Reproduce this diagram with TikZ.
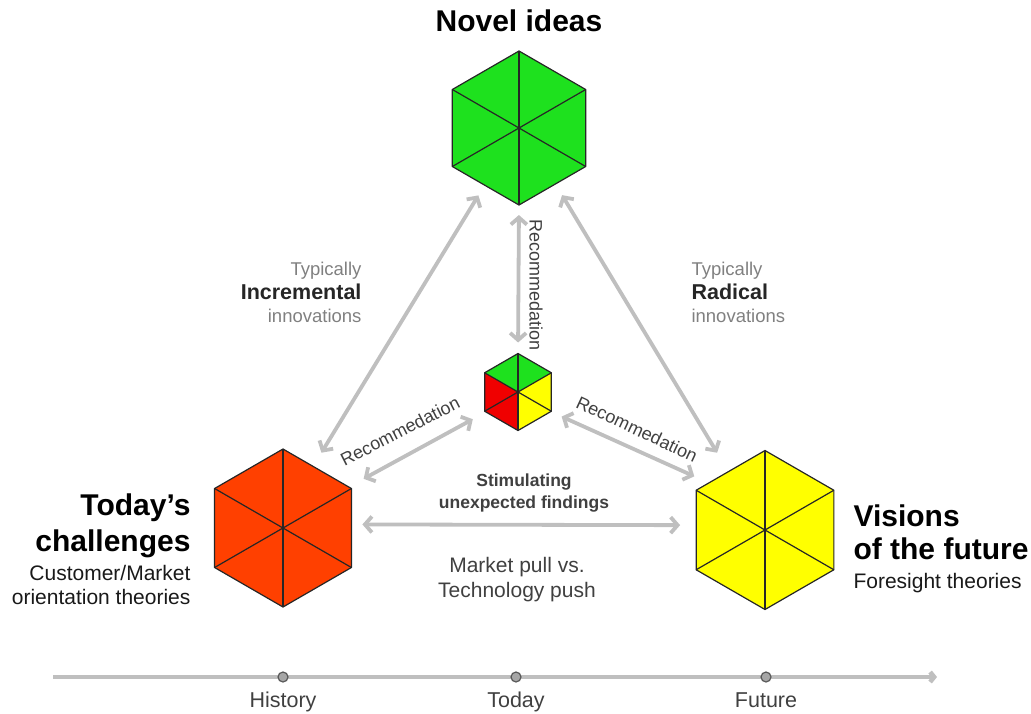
\documentclass[tikz,border=0pt]{standalone}
\usepackage{fontspec}
\setmainfont{Liberation Sans}
\usetikzlibrary{shapes.geometric,arrows.meta}

\definecolor{ideengruen}{RGB}{30,225,30}
\definecolor{heuterot}{RGB}{255,64,0}
\definecolor{mischrot}{RGB}{240,0,0}
\definecolor{zukunftgelb}{RGB}{255,255,0}
\definecolor{pfeilgrau}{RGB}{191,191,191}
\definecolor{textgrau}{RGB}{64,64,64}
\definecolor{hellgrau}{RGB}{128,128,128}

\tikzset{
  hexa/.style={regular polygon, regular polygon sides=6, shape border rotate=30,
    inner sep=0pt, outer sep=0pt},
  kante/.style={draw=black!85, line width=1.2pt, line join=round},
  doppelpfeil/.style={{Straight Barb[length=7pt,width=16pt]}-{Straight Barb[length=7pt,width=16pt]},
    draw=pfeilgrau, line width=3.8pt},
  titel/.style={font=\fontsize{30}{36}\selectfont\bfseries, text=black},
  unter/.style={font=\fontsize{21}{24}\selectfont, text=black!90},
  typisch/.style={font=\fontsize{18.5}{24}\selectfont, text=hellgrau},
  typfett/.style={font=\fontsize{21.5}{24}\selectfont\bfseries, text=black!85},
  empfehlung/.style={font=\fontsize{18}{22}\selectfont, text=textgrau, inner sep=0pt},
  mitte/.style={font=\fontsize{21}{24}\selectfont, text=textgrau},
  mittefett/.style={font=\fontsize{17.5}{22}\selectfont\bfseries, text=textgrau},
  zeit/.style={font=\fontsize{21.5}{24}\selectfont, text=textgrau},
  marke/.style={circle, fill=black!35, draw=black!65, line width=1.2pt, minimum size=10pt, inner sep=0pt}
}

\begin{document}
\begin{tikzpicture}[x=1pt, y=-1pt]
\useasboundingbox (0,0) rectangle (1031,713);

% Sechsecke
\node[hexa, kante, fill=ideengruen, minimum size=154pt] (nov) at (519,128) {};
\node[hexa, kante, fill=heuterot, minimum size=158pt] (chal) at (283,528) {};
\node[hexa, kante, fill=zukunftgelb, minimum size=159pt] (vis) at (765,530) {};
\foreach \h in {nov,chal,vis} {
  \foreach \w in {30,90,...,330} {
    \draw[kante] (\h.center) -- (\h.\w);
  }
}

% kleines gemischtes Sechseck
\node[hexa, minimum size=77pt] (mix) at (518,392) {};
\fill[ideengruen] (mix.center) -- (mix.150) -- (mix.90) -- (mix.30) -- cycle;
\fill[mischrot] (mix.center) -- (mix.150) -- (mix.210) -- (mix.270) -- cycle;
\fill[zukunftgelb] (mix.center) -- (mix.270) -- (mix.330) -- (mix.30) -- cycle;
\draw[kante] (mix.30) -- (mix.90) -- (mix.150) -- (mix.210) -- (mix.270) -- (mix.330) -- cycle;
\foreach \w in {30,90,...,330} {
  \draw[kante] (mix.center) -- (mix.\w);
}

% Pfeile
\draw[doppelpfeil, shorten <=12pt, shorten >=16pt] (nov.239) -- (chal.64);
\draw[doppelpfeil, shorten <=13pt, shorten >=22pt] (nov.303) -- (vis.122);
\draw[doppelpfeil, shorten <=10pt, shorten >=11pt] (nov.270) -- (mix.90);
\draw[doppelpfeil, shorten <=15pt, shorten >=17pt] (mix.212) -- (chal.32);
\draw[doppelpfeil, shorten <=12pt, shorten >=16pt] (mix.329) -- (vis.140);
\draw[doppelpfeil, shorten <=11pt, shorten >=16pt] (chal.3) -- (vis.176);

\node[empfehlung, rotate=-90] (empf1) at (536,285) {Recommedation};
\node[empfehlung, rotate=27] (empf2) at (400,431) {Recommedation};
\node[empfehlung, rotate=-25] (empf3) at (637,429) {Recommedation};

% Titel und Beschriftungen
\node[titel, anchor=base] (novtxt) at (519,31) {Novel ideas};

\node[titel, anchor=base east] (heute1) at (194,515) {Today’s};
\node[titel, anchor=base east] (heute2) at (194,551) {challenges};
\node[unter, anchor=base east] (heute3) at (194,580) {Customer/Market};
\node[unter, anchor=base east] (heute4) at (194,604) {orientation theories};

\node[titel, anchor=base west] (vis1) at (850,526) {Visions};
\node[titel, anchor=base west] (vis2) at (850,559) {of the future};
\node[unter, anchor=base west] (vis3) at (850,588) {Foresight theories};

\node[typisch, anchor=base east] (inkr1) at (365,275) {Typically};
\node[typfett, anchor=base east] (inkr2) at (365,299) {Incremental};
\node[typisch, anchor=base east] (inkr3) at (365,322) {innovations};

\node[typisch, anchor=base west] (rad1) at (688,275) {Typically};
\node[typfett, anchor=base west] (rad2) at (688,299) {Radical};
\node[typisch, anchor=base west] (rad3) at (688,322) {innovations};

\node[mittefett, anchor=base] (stim1) at (524,486) {Stimulating};
\node[mittefett, anchor=base] (stim2) at (524,508) {unexpected findings};
\node[mitte, anchor=base] (markt1) at (517,572) {Market pull vs.};
\node[mitte, anchor=base] (markt2) at (517,597) {Technology push};

% Zeitachse
\coordinate (zstart) at (53,677);
\coordinate (zende) at (937,677);
\draw[draw=pfeilgrau, line width=4.5pt, -{Straight Barb[length=4pt,width=10pt]}] (zstart) -- (zende);
\node[marke] (hist) at (283,677) {};
\node[marke] (heute) at (516,677) {};
\node[marke] (zuk) at (766,677) {};
\node[zeit, anchor=base] (histtxt) at (283,707) {History};
\node[zeit, anchor=base] (heutetxt) at (516,707) {Today};
\node[zeit, anchor=base] (zuktxt) at (766,707) {Future};

\end{tikzpicture}
\end{document}
